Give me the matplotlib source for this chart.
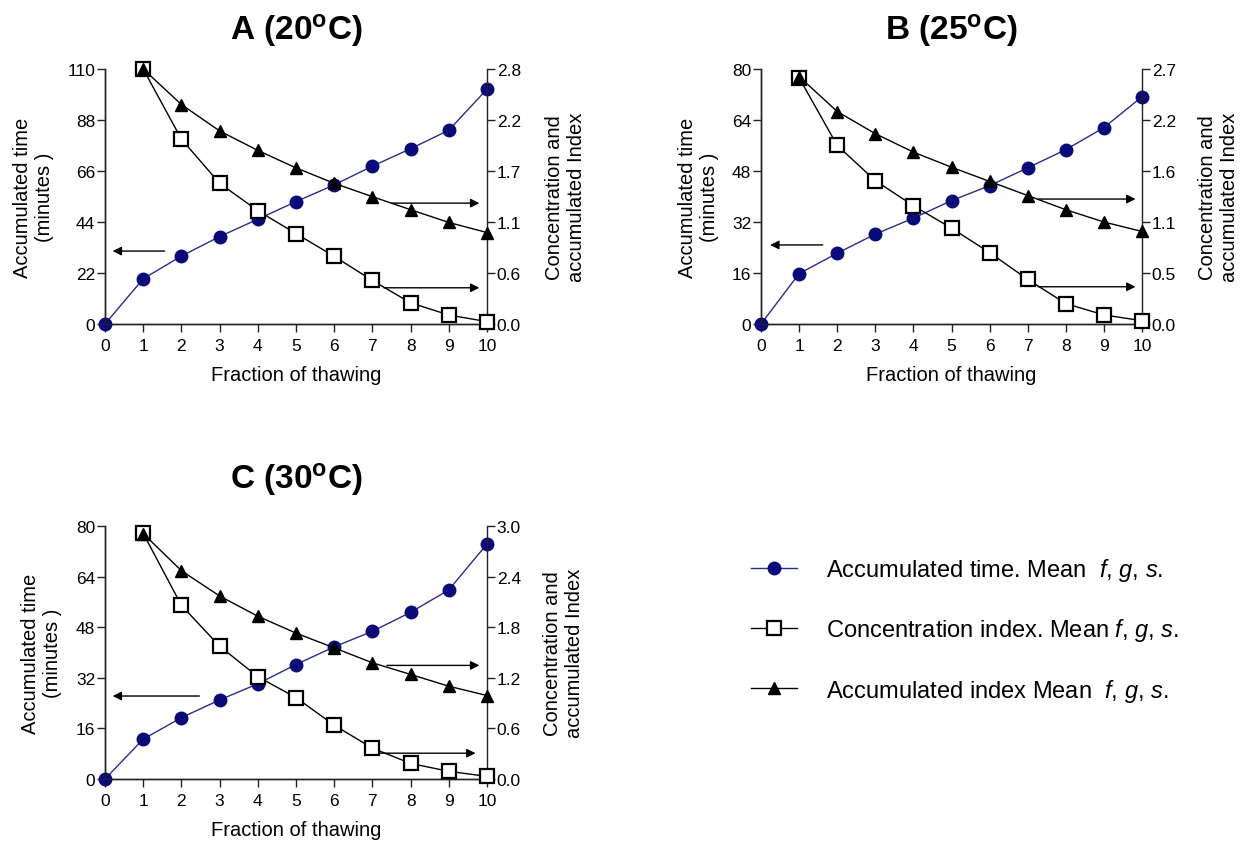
import numpy as np
import matplotlib
matplotlib.use("Agg")
import matplotlib.pyplot as plt
from matplotlib.ticker import FixedLocator, FormatStrFormatter

plt.rcParams['font.family'] = ['Liberation Sans', 'DejaVu Sans']
plt.rcParams['mathtext.fontset'] = 'custom'
plt.rcParams['mathtext.rm'] = 'Liberation Sans'
plt.rcParams['mathtext.it'] = 'Liberation Sans:italic'
plt.rcParams['mathtext.bf'] = 'Liberation Sans:bold'

# ---- data ----
fractions = [0, 1, 2, 3, 4, 5, 6, 7, 8, 9, 10]
fractions_idx = [1, 2, 3, 4, 5, 6, 7, 8, 9, 10]

titles = [r'A (20$^{\mathbf{o}}$C)', r'B (25$^{\mathbf{o}}$C)', r'C (30$^{\mathbf{o}}$C)']

time_A = [0, 19.5, 29.3, 37.7, 45.2, 52.8, 60.0, 68.1, 75.6, 83.6, 101.3]
conc_A = [2.80, 2.03, 1.545, 1.244, 0.993, 0.743, 0.478, 0.232, 0.099, 0.026]
accum_A = [2.80, 2.41, 2.12, 1.906, 1.714, 1.545, 1.398, 1.255, 1.115, 1.004]

time_B = [0, 15.8, 22.2, 28.2, 33.2, 38.7, 43.4, 49.0, 54.7, 61.6, 71.3]
conc_B = [2.607, 1.891, 1.518, 1.252, 1.015, 0.756, 0.472, 0.216, 0.096, 0.035]
accum_B = [2.62, 2.25, 2.015, 1.82, 1.66, 1.51, 1.36, 1.21, 1.08, 0.98]

time_C = [0, 12.6, 19.4, 25.0, 30.1, 36.2, 41.8, 46.7, 52.7, 59.8, 74.3]
conc_C = [2.913, 2.059, 1.575, 1.213, 0.965, 0.638, 0.366, 0.185, 0.091, 0.031]
accum_C = [2.91, 2.47, 2.17, 1.93, 1.73, 1.555, 1.378, 1.24, 1.10, 0.99]

left_max = [110, 80, 80]
left_ticks = [[0, 22, 44, 66, 88, 110], [0, 16, 32, 48, 64, 80], [0, 16, 32, 48, 64, 80]]
right_max = [2.8, 2.7, 3.0]

legend_labels = [r'Accumulated time. Mean  $\mathit{f}$, $\mathit{g}$, $\mathit{s}$.',
                 r'Concentration index. Mean $\mathit{f}$, $\mathit{g}$, $\mathit{s}$.',
                 r'Accumulated index Mean  $\mathit{f}$, $\mathit{g}$, $\mathit{s}$.']

times = [time_A, time_B, time_C]
concs = [conc_A, conc_B, conc_C]
accums = [accum_A, accum_B, accum_C]

# ---- layout ----
W, H = 1252, 845
fig = plt.figure(figsize=(W / 100, H / 100), dpi=100)

def px_axes(l, r, t, b):
    return [l / W, 1 - b / H, (r - l) / W, (b - t) / H]

positions = [px_axes(105, 487, 70, 325), px_axes(761, 1142, 70, 325), px_axes(105, 487, 527, 780)]
left_label_x = [-0.186, -0.163, -0.165]
right_label_x = [1.206, 1.200, 1.201]
title_y = [1.12, 1.12, 1.15]
arrows = [
    [((0.156, 0.286), (0.02, 0.286)), ((0.75, 0.474), (0.98, 0.474)), ((0.73, 0.142), (0.98, 0.142))],
    [((0.162, 0.31), (0.024, 0.31)), ((0.727, 0.49), (0.983, 0.49)), ((0.727, 0.146), (0.983, 0.146))],
    [((0.247, 0.328), (0.02, 0.328)), ((0.738, 0.449), (0.98, 0.449)), ((0.713, 0.102), (0.97, 0.102))],
]

navy = '#0a0a78'
tick_fs = 12.5
label_fs = 14.5
handles = None

for i in range(3):
    ax = fig.add_axes(positions[i])
    ax2 = ax.twinx()
    l1, = ax.plot(fractions, times[i], '-', color='#2b2b8c', lw=1.0, marker='o', ms=9,
                  mfc=navy, mec=navy, clip_on=False, zorder=3)
    l2, = ax2.plot(fractions_idx, concs[i], '-', color='black', lw=1.0, marker='s', ms=9.5,
                   mfc='white', mec='black', mew=1.6, clip_on=False, zorder=3)
    l3, = ax2.plot(fractions_idx, accums[i], '-', color='black', lw=1.0, marker='^', ms=9,
                   mfc='black', mec='black', clip_on=False, zorder=4)
    if handles is None:
        handles = [l1, l2, l3]
    ax.set_xlim(0, 10)
    ax.set_ylim(0, left_max[i])
    ax2.set_ylim(0, right_max[i])
    ax.set_xticks(range(0, 11))
    ax.yaxis.set_major_locator(FixedLocator(left_ticks[i]))
    ax2.yaxis.set_major_locator(FixedLocator(list(np.linspace(0, right_max[i], 6))))
    ax2.yaxis.set_major_formatter(FormatStrFormatter('%.1f'))
    for a in (ax, ax2):
        a.spines['top'].set_visible(False)
        for s in a.spines.values():
            s.set_linewidth(1.0)
            s.set_color('#222222')
        a.tick_params(direction='out', length=5.5, width=1.0, labelsize=tick_fs, pad=1.5,
                      color='#222222')
    ax.tick_params(axis='x', pad=4.5)
    ax.spines['right'].set_visible(False)
    ax.set_xlabel('Fraction of thawing', fontsize=label_fs, labelpad=9)
    ax.text(left_label_x[i], 0.5, 'Accumulated time\n(minutes )', rotation=90, ha='center',
            va='center', multialignment='center', transform=ax.transAxes, fontsize=label_fs,
            linespacing=1.2)
    ax.text(right_label_x[i], 0.5, 'Concentration and\naccumulated Index', rotation=90,
            ha='center', va='center', multialignment='center', transform=ax.transAxes,
            fontsize=label_fs, linespacing=1.2)
    ax.text(0.5, title_y[i], titles[i], ha='center', va='baseline', transform=ax.transAxes,
            fontsize=24, fontweight='bold')
    for (start, end) in arrows[i]:
        ax.annotate('', xy=end, xytext=start, xycoords='axes fraction', textcoords='axes fraction',
                    arrowprops=dict(arrowstyle='-|>', color='black', lw=1.0, mutation_scale=13,
                                    shrinkA=0, shrinkB=0))

leg = fig.legend(handles, legend_labels, loc='center left', bbox_to_anchor=(751 / W, 1 - 631 / H),
                 frameon=False, fontsize=17, handlelength=1.95, handletextpad=1.22,
                 labelspacing=1.4, borderpad=0, borderaxespad=0)

fig.savefig('out.png', dpi=100)
